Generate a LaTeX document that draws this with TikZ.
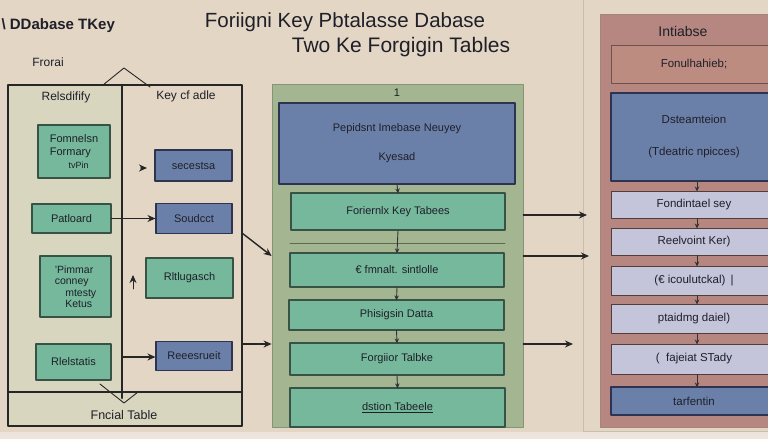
\documentclass[tikz,border=0pt]{standalone}
\usepackage{fontspec}
\setmainfont{Liberation Sans}
\usetikzlibrary{arrows,arrows.meta,positioning}
\definecolor{eeddcc}{rgb}{0.89,0.84,0.77}
\definecolor{eeeedd}{rgb}{0.93,0.9,0.86}
\definecolor{ddddbb}{rgb}{0.85,0.84,0.75}
\definecolor{ttbbaa}{rgb}{0.46,0.72,0.61}
\definecolor{qqttaa}{rgb}{0.22,0.32,0.27}
\definecolor{ttuubb}{rgb}{0.42,0.5,0.66}
\definecolor{zzzzuu}{rgb}{0.18,0.2,0.32}
\definecolor{aabbzz}{rgb}{0.64,0.71,0.57}
\definecolor{uuzzuu}{rgb}{0.52,0.58,0.46}
\definecolor{bbuutt}{rgb}{0.71,0.53,0.5}
\definecolor{zzttqq}{rgb}{0.55,0.4,0.37}
\definecolor{bbuuuu}{rgb}{0.74,0.55,0.5}
\definecolor{ccccdd}{rgb}{0.77,0.77,0.86}
\definecolor{ccbbaa}{rgb}{0.79,0.74,0.67}
\definecolor{txtdark}{rgb}{0.12,0.12,0.16}
\tikzset{
  greenbox/.style={draw=qqttaa,fill=ttbbaa,line width=1.1pt,inner sep=1pt,font=\fontsize{11}{13}\selectfont,text=txtdark},
  bluebox/.style={draw=zzzzuu,fill=ttuubb,line width=1.1pt,inner sep=1pt,font=\fontsize{11}{13}\selectfont,text=txtdark},
  rosebox/.style={draw=zzttqq!80!black,fill=bbuuuu,line width=1pt,inner sep=1pt,font=\fontsize{11.5}{13}\selectfont,text=txtdark},
  lavbox/.style={draw=zzttqq!60!black,fill=ccccdd,line width=1pt,inner sep=1pt,font=\fontsize{11.5}{13}\selectfont,text=txtdark},
  flow/.style={-{Stealth[length=8pt,width=7pt]},line width=1.4pt,black!85},
  step arrow/.style={-{Stealth[length=5pt,width=4.5pt]},line width=0.9pt,black!80,shorten >=-1pt},
  label txt/.style={font=\fontsize{12}{14}\selectfont,text=txtdark}
}
\begin{document}
\begin{tikzpicture}[line cap=round,line join=round,x=1pt,y=-1pt]
\useasboundingbox (0,0) rectangle (768,439);
\clip (0,0) rectangle (768,439);
% background
\fill[eeddcc] (0,0) rectangle (768,439);
\fill[eeeedd] (0,432) rectangle (768,439);
\draw[ccbbaa,line width=0.6pt] (583,-5) -- (583,431) -- (775,431);
% titles
\node[font=\fontsize{20.5}{22}\selectfont,text=txtdark] (title1) at (345,22) {Foriigni Key Pbtalasse Dabase};
\node[font=\fontsize{21}{23}\selectfont,text=txtdark] (title2) at (401,47) {Two Ke Forgigin Tables};
\node[font=\bfseries\fontsize{15}{17}\selectfont,text=txtdark,anchor=west] (toptag) at (-2,26) {\textbackslash\ DDabase TKey};
\node[label txt] (frorai) at (48,62) {Frorai};

% left table
\fill[ddddbb] (8,85) rectangle (122,392);
\fill[ddddbb] (8,392) rectangle (242,426);
\draw[line width=2.2pt,black!85] (8,85) rectangle (242,426);
\draw[line width=2.2pt,black!85] (122,85) -- (122,398);
\draw[line width=2pt,black!85] (8,392) -- (242,392);
\draw[line width=0.9pt,black!85] (103,85) -- (124,68) -- (150,87);
\draw[line width=0.9pt,black!85] (100,384) -- (124,403) -- (138,392);
\node[label txt] (relcol) at (66,97) {Relsdifify};
\node[label txt] (keycol) at (186,96) {Key cf adle};
\node[label txt,font=\fontsize{12.5}{14}\selectfont] (fncial) at (124,415) {Fncial Table};

\node[greenbox,minimum width=72pt,minimum height=53pt,align=left] (fomn) at (74,151.5) {Fomnelsn\\Formary\\\hspace{1.7em}\fontsize{9}{11}\selectfont tvPin};
\node[greenbox,minimum width=79pt,minimum height=29pt] (patl) at (71.5,218.5) {Patloard};
\node[greenbox,minimum width=71pt,minimum height=61pt,align=left,font=\fontsize{10.5}{11.5}\selectfont] (pimm) at (75.5,286.5) {'Pimmar\\conney\\\hspace{1em}mtesty\\\hspace{1em}Ketus};
\node[greenbox,minimum width=75pt,minimum height=36pt] (rlel) at (73.5,362) {Rlelstatis};

\node[bluebox,minimum width=77pt,minimum height=31pt] (sece) at (193.5,165.5) {secestsa};
\node[bluebox,minimum width=76pt,minimum height=30pt] (soud) at (194,218.5) {Soudcct};
\node[greenbox,minimum width=87pt,minimum height=40pt] (rltl) at (189.5,278) {Rltlugasch};
\node[bluebox,minimum width=76pt,minimum height=29pt] (rees) at (194,356) {Reeesrueit};

\coordinate (chevA) at (141,168);
\coordinate (upA) at (133,289);
\coordinate (upB) at (133,275);
\coordinate (lowA) at (123,357);
\draw[flow] (chevA) -- ++(6,0);
\draw[flow] (patl.east) -- (soud.west);
\draw[flow,line width=0.9pt] (upA) -- (upB);
\draw[flow] (lowA) -- (rees.west |- lowA);

% middle panel
\node[draw=uuzzuu,fill=aabbzz,line width=0.8pt,minimum width=251pt,minimum height=343pt] (mid) at (397.5,255.5) {};
\node[font=\fontsize{11}{13}\selectfont,text=txtdark] (one) at (397,93) {1};
\node[bluebox,minimum width=236pt,minimum height=81pt,align=center] (mtop) at (397,143.5) {Pepidsnt Imebase Neuyey\\[16pt]Kyesad};
\draw[uuzzuu!70!black,line width=0.6pt] (290,243) -- (505,243);
\node[greenbox,minimum width=214pt,minimum height=37pt] (mg1) at (398,211.5) {Foriernlx Key Tabees};
\node[greenbox,minimum width=214pt,minimum height=34pt] (mg2) at (397,270) {€ fmnalt. sintlolle};
\node[greenbox,minimum width=215pt,minimum height=30pt] (mg3) at (396.5,315) {Phisigsin Datta};
\node[greenbox,minimum width=214pt,minimum height=32pt] (mg4) at (397,359) {Forgiior Talbke};
\node[greenbox,minimum width=215pt,minimum height=39pt] (mg5) at (397.5,407.5) {\underline{dstion Tabeele}};
\draw[step arrow] (mtop.south) -- (mg1.north);
\draw[step arrow] (mg1.south) -- (mg2.north);
\draw[step arrow] (mg2.south) -- (mg3.north);
\draw[step arrow] (mg3.south) -- (mg4.north);
\draw[step arrow] (mg4.south) -- (mg5.north);

% into and out of the middle panel
\coordinate (leftA) at (242,233);
\coordinate (leftB) at (242,344);
\draw[flow] (leftA) -- (mid.west |- 0,256);
\draw[flow] (leftB) -- (mid.west |- leftB);
\coordinate (outA) at (587,215);
\coordinate (outB) at (589,256);
\coordinate (outC) at (573,344);
\draw[flow] (mid.east |- outA) -- (outA);
\draw[flow] (mid.east |- outB) -- (outB);
\draw[flow] (mid.east |- outC) -- (outC);

% right panel
\fill[bbuutt] (600,14) rectangle (780,427);
\draw[zzttqq!80,line width=0.8pt] (780,14) -- (600,14) -- (600,427) -- (780,427);
\node[font=\fontsize{14}{16}\selectfont,text=txtdark] (intia) at (683,31) {Intiabse};
\node[rosebox,minimum width=166pt,minimum height=38pt] (r1) at (694,64) {Fonulhahieb;};
\node[bluebox,minimum width=166pt,minimum height=88pt,align=center,font=\fontsize{11.5}{13}\selectfont] (r2) at (694,137) {Dsteamteion\\[19pt](Tdeatric npicces)};
\node[lavbox,minimum width=166pt,minimum height=27pt] (r3) at (694,204.5) {Fondintael sey};
\node[lavbox,minimum width=166pt,minimum height=27pt] (r4) at (694,241.5) {Reelvoint Ker)};
\node[lavbox,minimum width=166pt,minimum height=29pt] (r5) at (694,280.5) {(€ icoulutckal) \,|};
\node[lavbox,minimum width=166pt,minimum height=29pt] (r6) at (694,318.5) {ptaidmg daiel)};
\node[lavbox,minimum width=166pt,minimum height=30pt] (r7) at (694,359) {( \ fajeiat STady};
\node[bluebox,minimum width=166pt,minimum height=28pt,font=\fontsize{11.5}{13}\selectfont] (r8) at (694,401) {tarfentin};
\draw[step arrow] ([xshift=3pt]r2.south) -- ([xshift=3pt]r3.north);
\draw[step arrow] ([xshift=3pt]r3.south) -- ([xshift=3pt]r4.north);
\draw[step arrow] ([xshift=3pt]r4.south) -- ([xshift=3pt]r5.north);
\draw[step arrow] ([xshift=3pt]r5.south) -- ([xshift=3pt]r6.north);
\draw[step arrow] ([xshift=3pt]r6.south) -- ([xshift=3pt]r7.north);
\draw[step arrow] ([xshift=3pt]r7.south) -- ([xshift=3pt]r8.north);
\end{tikzpicture}
\end{document}
